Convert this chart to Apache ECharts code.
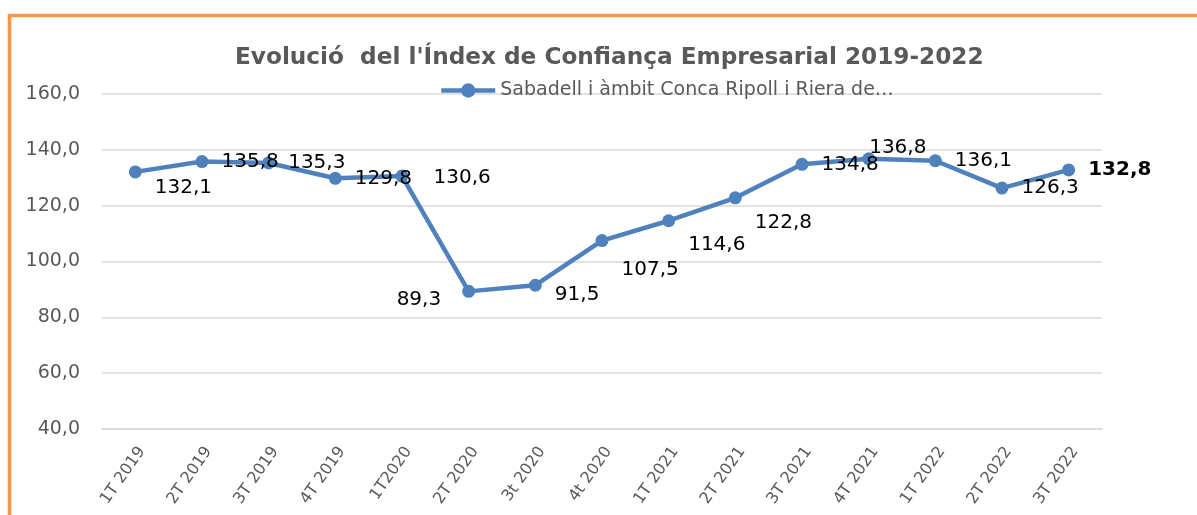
<!DOCTYPE html>
<html>
<head>
<meta charset="utf-8">
<script src="https://cdn.jsdelivr.net/npm/echarts@6/dist/echarts.min.js"></script>
<style>
html,body{margin:0;padding:0;background:#fff;}
#chart{width:1197px;height:515px;}
</style>
</head>
<body>
<div id="chart"></div>
<script>
const titleText = "Evolució  del l'Índex de Confiança Empresarial 2019-2022";
const seriesName = "Sabadell i àmbit Conca Ripoll i Riera de…";
const categories = ["1T 2019","2T 2019","3T 2019","4T 2019","1T2020","2T 2020","3t 2020","4t 2020","1T 2021","2T 2021","3T 2021","4T 2021","1T 2022","2T 2022","3T 2022"];
const values = [132.1,135.8,135.3,129.8,130.6,89.3,91.5,107.5,114.6,122.8,134.8,136.8,136.1,126.3,132.8];
const yTicks = {min:40, max:160, interval:20};

// label placement tweaks (style only)
const labelTweaks = {
  0:{offset:[0,16]},
  4:{offset:[12,2]},
  5:{position:'left', offset:[-8,8]},
  6:{offset:[0,10]},
  7:{offset:[0,29]},
  8:{offset:[0,24]},
  9:{offset:[0,25]},
  11:{offset:[-19,-11]},
  14:{fontWeight:'bold'}
};

const seriesData = values.map((v,i)=>{
  const item = {value:v};
  if (labelTweaks[i]) item.label = labelTweaks[i];
  return item;
});

const FONT = 'DejaVu Sans';
const chart = echarts.init(document.getElementById('chart'));
chart.setOption({
  backgroundColor:'#ffffff',
  animation:false,
  graphic:[{
    type:'rect',
    shape:{x:9.5,y:15.5,width:1400,height:800},
    style:{fill:'none',stroke:'#f79646',lineWidth:3.5},
    silent:true
  }],
  title:{
    text:titleText,
    left:230,
    top:41,
    textStyle:{fontFamily:FONT,fontSize:23.2,fontWeight:'bold',color:'#595959'}
  },
  legend:{
    data:[seriesName],
    left:434,
    top:76,
    itemWidth:54,
    itemHeight:18,
    itemGap:4,
    lineStyle:{width:4.5},
    textStyle:{fontFamily:FONT,fontSize:19,color:'#595959'}
  },
  grid:{left:102,right:95,top:94,bottom:86,containLabel:false},
  xAxis:{
    type:'category',
    data:categories,
    boundaryGap:true,
    axisLine:{show:true,lineStyle:{color:'#d9d9d9',width:1.5}},
    axisTick:{show:false},
    axisLabel:{rotate:55,fontFamily:FONT,fontSize:16,color:'#595959',margin:15,interval:0,verticalAlign:'top'}
  },
  yAxis:{
    type:'value',
    min:yTicks.min,max:yTicks.max,interval:yTicks.interval,
    axisLine:{show:false},
    axisTick:{show:false},
    splitLine:{lineStyle:{color:'#d9d9d9',width:1.5}},
    axisLabel:{fontFamily:FONT,fontSize:19,color:'#595959',margin:22,
      formatter:v=>v.toFixed(1).replace('.',',')}
  },
  series:[{
    name:seriesName,
    type:'line',
    data:seriesData,
    symbol:'circle',
    symbolSize:13,
    lineStyle:{color:'#4f81bd',width:4.5},
    itemStyle:{color:'#4f81bd'},
    label:{
      show:true,
      position:'right',
      distance:13,
      fontFamily:FONT,
      fontSize:20,
      color:'#000000',
      formatter:p=>p.value.toFixed(1).replace('.',',')
    }
  }]
});
</script>
</body>
</html>
